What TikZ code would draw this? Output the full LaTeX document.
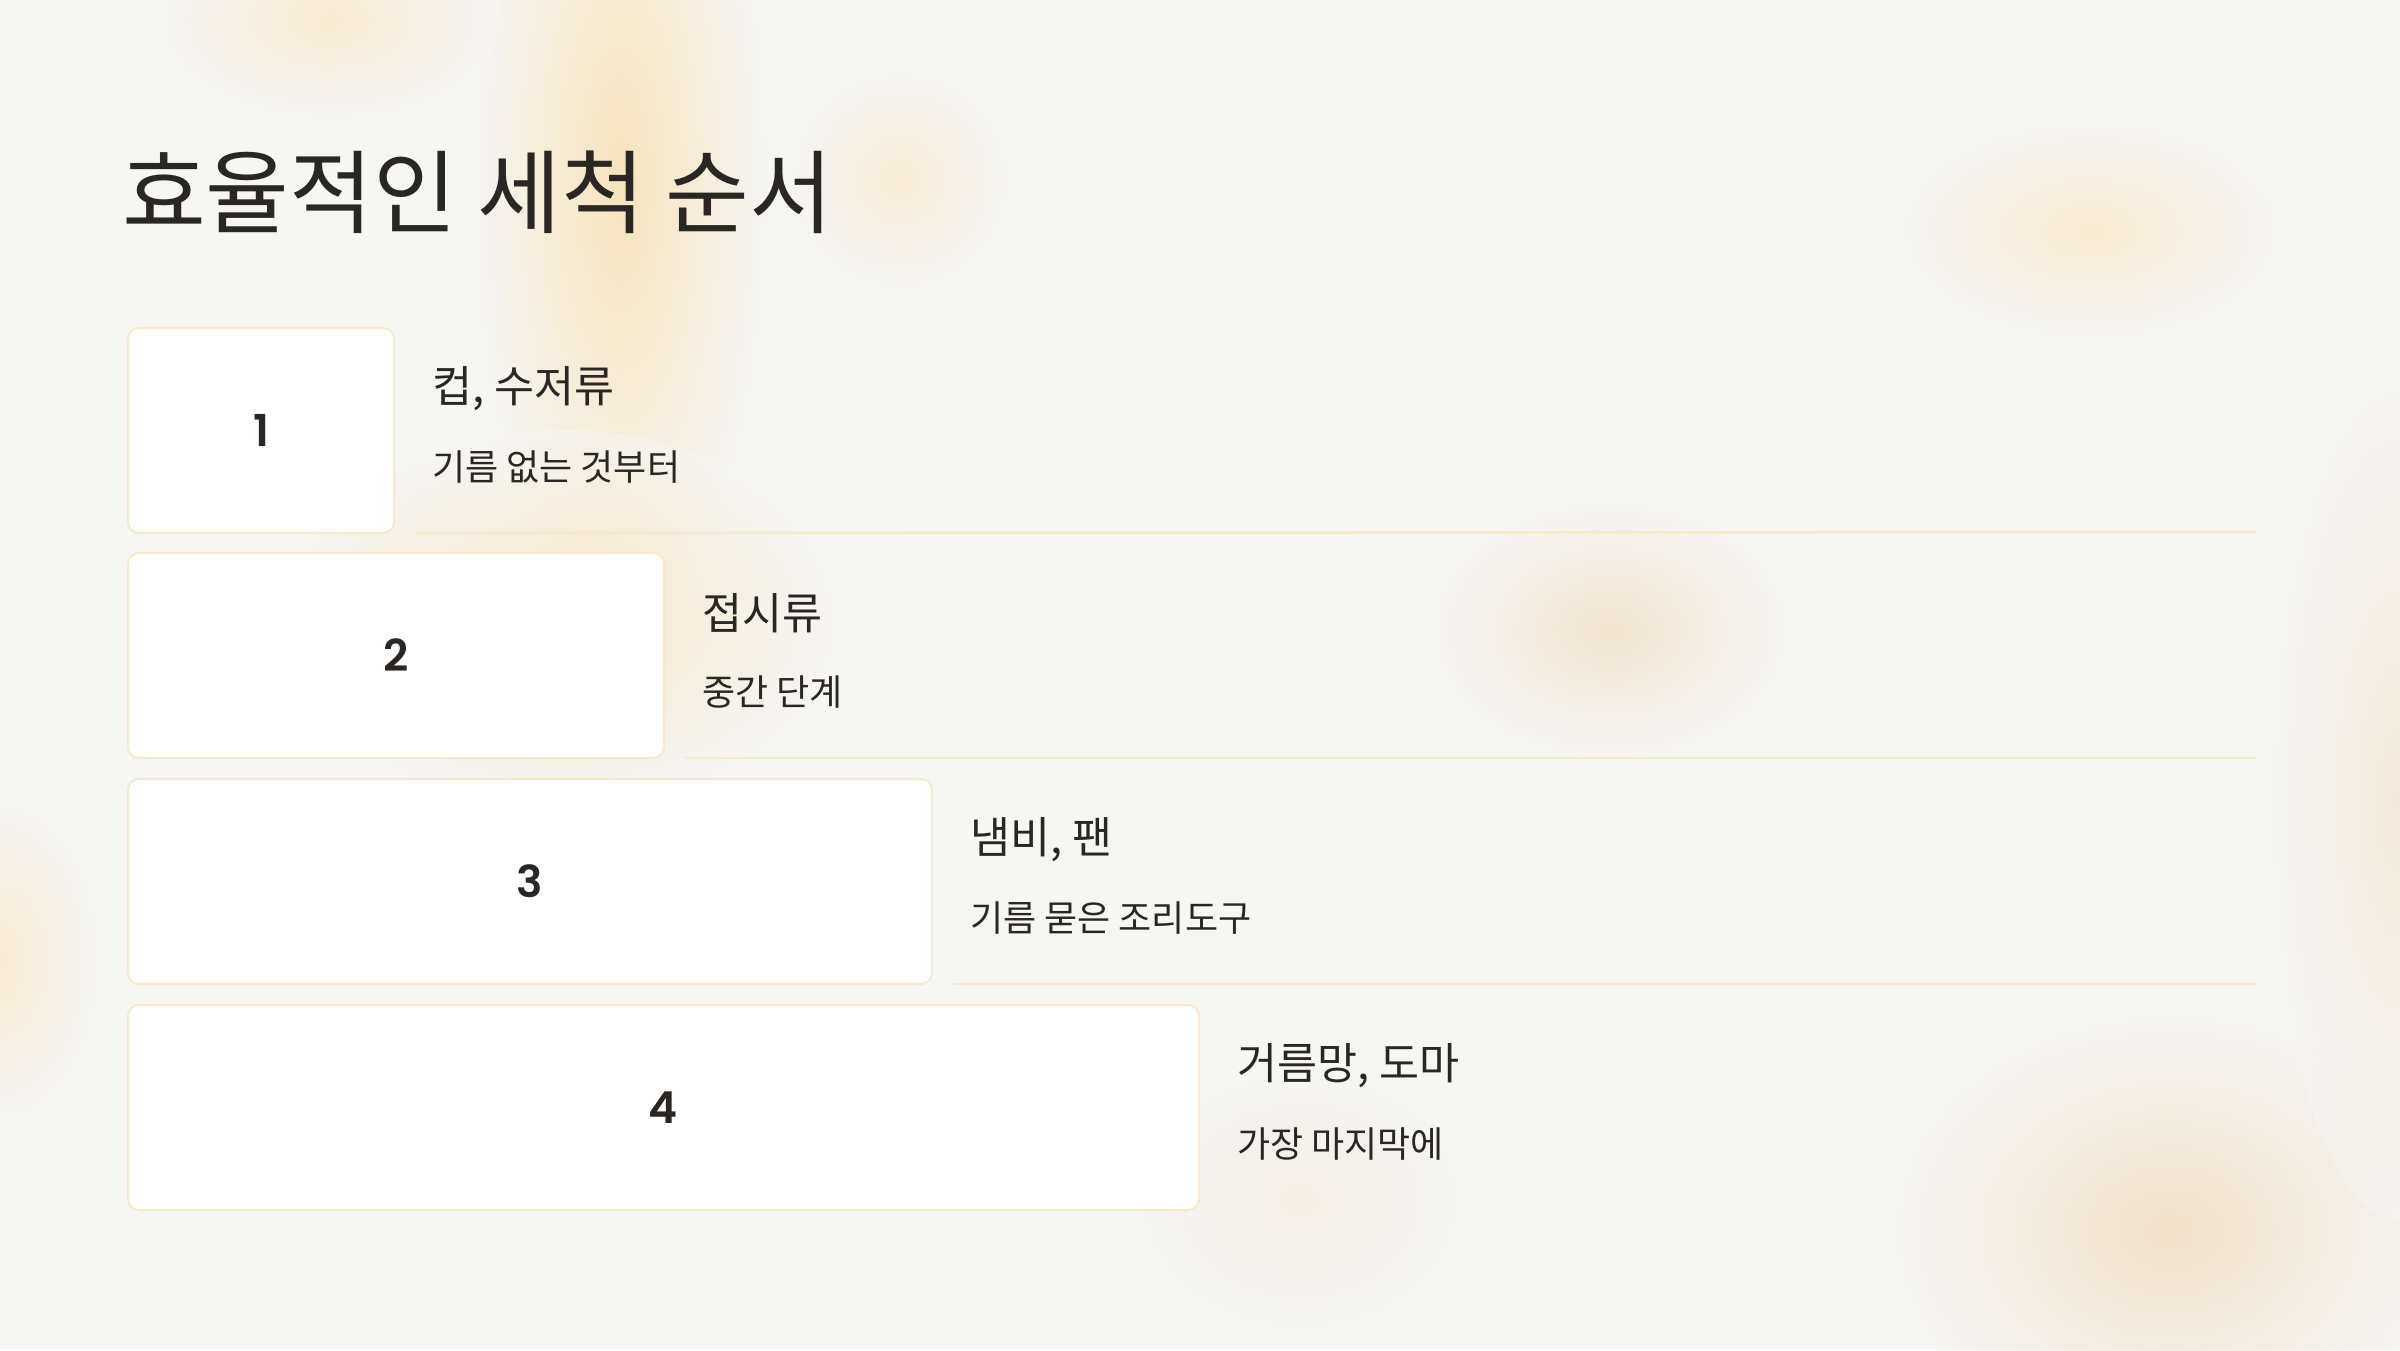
\documentclass[tikz,border=0pt]{standalone}
\usepackage{fontspec}
\setmainfont{Noto Sans CJK KR}
\newfontfamily\numfont{Poppins}[BoldFont={* SemiBold}]
\begin{document}
\begin{tikzpicture}[x=1pt,y=-1pt,
  stepbox/.style={draw=boxline,line width=2pt,fill=white,rounded corners=11pt},
  rowline/.style={draw=boxline,line width=2.5pt},
  numtxt/.style={text=ink,font=\numfont\bfseries\fontsize{44}{48}\selectfont,anchor=center},
  headtxt/.style={text=ink,font=\fontsize{43.5}{48}\selectfont,anchor=west,inner sep=0pt},
  subtxt/.style={text=ink,font=\fontsize{36}{40}\selectfont,anchor=west,inner sep=0pt},
  blob/.style={inner color=#1,outer color=bgcol}
]
\definecolor{bgcol}{HTML}{F6F6F5}
\definecolor{boxline}{HTML}{F8E9CC}
\definecolor{ink}{HTML}{2A2623}
\definecolor{gold}{HTML}{F6DFAE}
\definecolor{tan}{HTML}{EFDCC0}
\useasboundingbox (0,0) rectangle (2400,1350);
\fill[bgcol] (0,0) rectangle (2400,1350);
% soft background blobs
\begin{scope}
\clip (0,0) rectangle (2400,1350);
\shade[blob=gold,opacity=0.8] (620,180) ellipse [x radius=150, y radius=460];
\shade[blob=gold,opacity=0.6] (560,620) ellipse [x radius=280, y radius=190];
\shade[blob=gold,opacity=0.5] (330,20) ellipse [x radius=170, y radius=100];
\shade[blob=gold,opacity=0.45] (900,180) ellipse [x radius=110, y radius=110];
\shade[blob=tan,opacity=0.7] (1610,630) ellipse [x radius=180, y radius=130];
\shade[blob=gold,opacity=0.5] (2090,230) ellipse [x radius=190, y radius=110];
\shade[blob=tan,opacity=0.8] (2170,1230) ellipse [x radius=280, y radius=220];
\shade[blob=tan,opacity=0.5] (2400,800) ellipse [x radius=130, y radius=420];
\shade[blob=gold,opacity=0.5] (0,960) ellipse [x radius=100, y radius=160];
\shade[blob=tan,opacity=0.3] (1300,1200) ellipse [x radius=160, y radius=130];
\end{scope}
% title
\node[text=ink,font=\fontsize{91}{100}\selectfont,anchor=west,inner sep=0pt] (title) at (122,192) {효율적인 세척 순서};
% boxes
\node[stepbox,minimum width=266pt,minimum height=205pt,anchor=north west] (b1) at (127,327) {};
\node[stepbox,minimum width=536pt,minimum height=205pt,anchor=north west] (b2) at (127,552) {};
\node[stepbox,minimum width=804pt,minimum height=205pt,anchor=north west] (b3) at (127,778) {};
\node[stepbox,minimum width=1071pt,minimum height=205pt,anchor=north west] (b4) at (127,1004) {};
\node[numtxt] (n1) at (b1.center) {1};
\node[numtxt] (n2) at (b2.center) {2};
\node[numtxt] (n3) at (b3.center) {3};
\node[numtxt] (n4) at (b4.center) {4};
% texts
\node[headtxt] (h1) at ([xshift=37pt,yshift=42pt]b1.east) {컵, 수저류};
\node[subtxt] (s1) at ([xshift=37pt,yshift=-37pt]b1.east) {기름 없는 것부터};
\node[headtxt] (h2) at ([xshift=37pt,yshift=42pt]b2.east) {접시류};
\node[subtxt] (s2) at ([xshift=37pt,yshift=-37pt]b2.east) {중간 단계};
\node[headtxt] (h3) at ([xshift=37pt,yshift=42pt]b3.east) {냄비, 팬};
\node[subtxt] (s3) at ([xshift=37pt,yshift=-37pt]b3.east) {기름 묻은 조리도구};
\node[headtxt] (h4) at ([xshift=37pt,yshift=42pt]b4.east) {거름망, 도마};
\node[subtxt] (s4) at ([xshift=37pt,yshift=-37pt]b4.east) {가장 마지막에};
% separator lines
\coordinate (e1) at (2256,532);
\coordinate (e2) at (2256,758);
\coordinate (e3) at (2256,984);
\draw[rowline] ([xshift=20pt,yshift=1pt]b1.south east) -- (e1);
\draw[rowline] ([xshift=20pt,yshift=1pt]b2.south east) -- (e2);
\draw[rowline] ([xshift=20pt,yshift=1pt]b3.south east) -- (e3);
\end{tikzpicture}
\end{document}
